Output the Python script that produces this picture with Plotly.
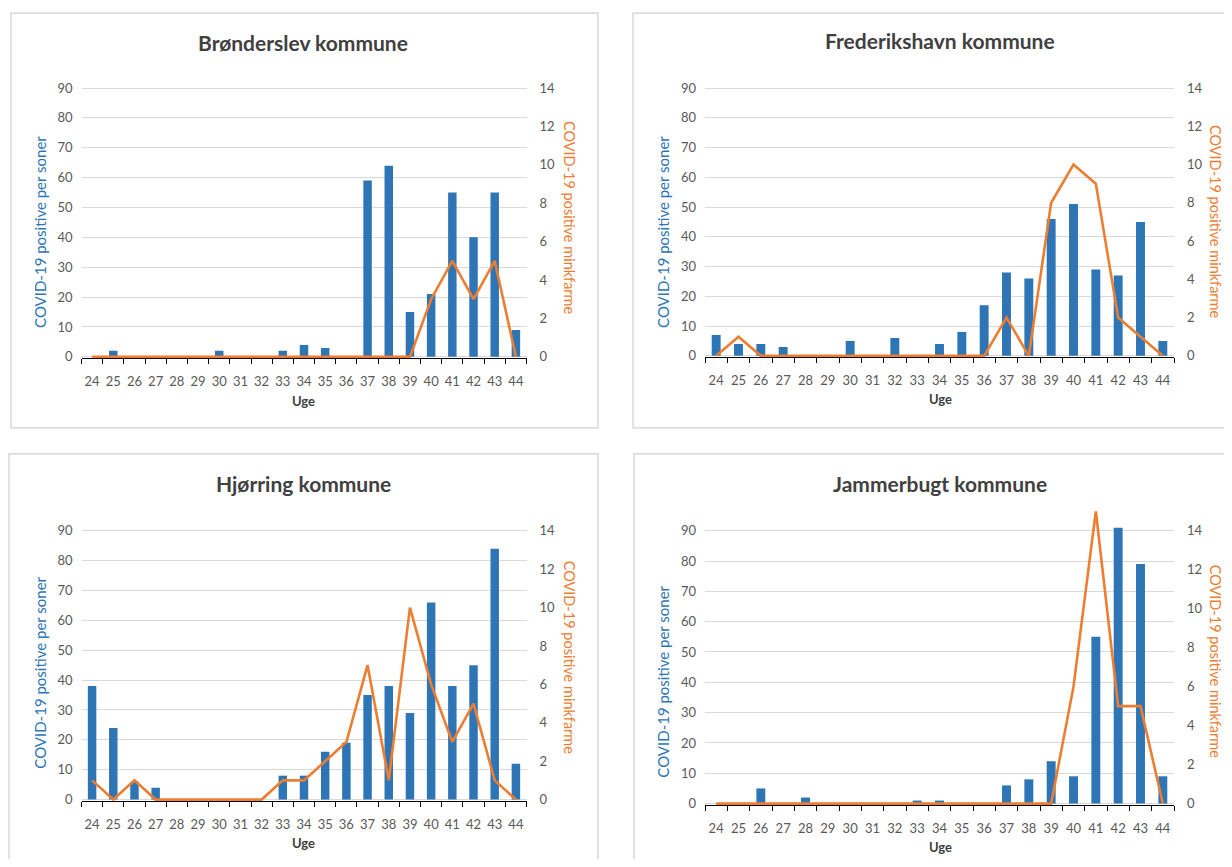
import plotly.graph_objects as go

weeks = ['24', '25', '26', '27', '28', '29', '30', '31', '32', '33', '34',
         '35', '36', '37', '38', '39', '40', '41', '42', '43', '44']

titles = ['Brønderslev kommune', 'Frederikshavn kommune', 'Hjørring kommune', 'Jammerbugt kommune']

# COVID-19 positive per soner (left axis, bars)
bronderslev_persons = [0, 2, 0, 0, 0, 0, 2, 0, 0, 2, 4, 3, 0, 59, 64, 15, 21, 55, 40, 55, 9]
frederikshavn_persons = [7, 4, 4, 3, 0, 0, 5, 0, 6, 0, 4, 8, 17, 28, 26, 46, 51, 29, 27, 45, 5]
hjorring_persons = [38, 24, 6, 4, 0, 0, 0, 0, 0, 8, 8, 16, 19, 35, 38, 29, 66, 38, 45, 84, 12]
jammerbugt_persons = [0, 0, 5, 0, 2, 0, 0, 0, 0, 1, 1, 0, 0, 6, 8, 14, 9, 55, 91, 79, 9]

# COVID-19 positive minkfarme (right axis, line)
bronderslev_farms = [0, 0, 0, 0, 0, 0, 0, 0, 0, 0, 0, 0, 0, 0, 0, 0, 3, 5, 3, 5, 0]
frederikshavn_farms = [0, 1, 0, 0, 0, 0, 0, 0, 0, 0, 0, 0, 0, 2, 0, 8, 10, 9, 2, 1, 0]
hjorring_farms = [1, 0, 1, 0, 0, 0, 0, 0, 0, 1, 1, 2, 3, 7, 1, 10, 6, 3, 5, 1, 0]
jammerbugt_farms = [0, 0, 0, 0, 0, 0, 0, 0, 0, 0, 0, 0, 0, 0, 0, 0, 6, 15, 5, 5, 0]

left_ticks = [0, 10, 20, 30, 40, 50, 60, 70, 80, 90]
right_ticks = [0, 2, 4, 6, 8, 10, 12, 14]

persons = [bronderslev_persons, frederikshavn_persons, hjorring_persons, jammerbugt_persons]
farms = [bronderslev_farms, frederikshavn_farms, hjorring_farms, jammerbugt_farms]

OFF = 8  # page body margin
YS = 1.0065  # vertical correction
W, H = 1232 - 2 * OFF, 867 - 2 * OFF
def px(x):
    return (x - OFF) / W
def py(y):
    return 1 - (y * YS - OFF) / H

BLUE = '#2E75B6'
ORANGE = '#ED7D31'
GRID = '#D9D9D9'
TICK = '#595959'
FONT = 'Lato'

# layout geometry per panel (target pixels)
geo = [
    dict(x0=81.5, x1=526.5, y90=88, y0=357, box=(11, 13, 598, 428), tx=303, ty=42,
         lt=(40, 232), rt=(569, 218), ux=303, uy=401),
    dict(x0=705, x1=1174, y90=88, y0=356, box=(633, 13, 1240, 428), tx=940, ty=40,
         lt=(663, 232), rt=(1215, 222), ux=940, uy=399),
    dict(x0=81.5, x1=526.5, y90=531, y0=800, box=(9, 454, 598, 880), tx=303, ty=484,
         lt=(40, 673), rt=(569, 658), ux=303, uy=843),
    dict(x0=705, x1=1174, y90=531, y0=804, box=(634, 454, 1240, 880), tx=940, ty=484,
         lt=(663, 682), rt=(1215, 662), ux=940, uy=847),
]

LTOP = 96.43
LBOT = -0.45
RTOP = LTOP * 14 / 90
RBOT = LBOT * 14 / 90

fig = go.Figure()
shapes = []
annotations = []
layout_axes = {}

for k in range(4):
    g = geo[k]
    xname = 'x' if k == 0 else f'x{k+1}'
    ylname = 'y' if k == 0 else f'y{2*k+1}'
    yrname = f'y{2*k+2}'
    xkey = 'xaxis' if k == 0 else f'xaxis{k+1}'
    ylkey = 'yaxis' if k == 0 else f'yaxis{2*k+1}'
    yrkey = f'yaxis{2*k+2}'

    scale = (g['y0'] - g['y90']) / 90.0
    top_px = g['y0'] - LTOP * scale
    bot_px = g['y0'] - LBOT * scale

    fig.add_trace(go.Bar(x=weeks, y=persons[k], marker=dict(color=BLUE, line=dict(width=0)),
                         xaxis=xname, yaxis=ylname, showlegend=False))
    fig.add_trace(go.Scatter(x=weeks, y=farms[k], mode='lines',
                             line=dict(color=ORANGE, width=2.6),
                             xaxis=xname, yaxis=yrname, showlegend=False))

    layout_axes[xkey] = dict(
        domain=[px(g['x0']), px(g['x1'])], anchor=ylname, type='category',
        showline=True, linecolor='#000000', linewidth=1,
        ticks='outside', tickson='boundaries', ticklen=5, tickcolor='#000000', tickwidth=1,
        tickangle=0,
        tickfont=dict(family=FONT, size=13, color=TICK), ticklabelstandoff=11,
        showgrid=False, layer='below traces', fixedrange=True)
    layout_axes[ylkey] = dict(
        domain=[py(bot_px), py(top_px)], anchor=xname, range=[LBOT, LTOP],
        tickvals=left_ticks, showgrid=True, gridcolor=GRID, gridwidth=1,
        zeroline=False, showline=False, ticks='',
        tickfont=dict(family=FONT, size=13, color=TICK), ticklabelstandoff=8,
        layer='below traces', fixedrange=True)
    layout_axes[yrkey] = dict(
        overlaying=ylname, side='right', anchor=xname, range=[RBOT, RTOP],
        tickvals=right_ticks, showgrid=False, zeroline=False, showline=False, ticks='',
        tickfont=dict(family=FONT, size=13, color=TICK), ticklabelstandoff=12,
        layer='below traces', fixedrange=True)

    b = g['box']
    shapes.append(dict(type='rect', xref='paper', yref='paper',
                       x0=px(b[0]), x1=px(b[2]), y0=py(b[3]), y1=py(b[1]),
                       line=dict(color='#D0D0D0', width=1.2), fillcolor='rgba(0,0,0,0)',
                       layer='below'))
    annotations.append(dict(text=titles[k], xref='paper', yref='paper',
                            x=px(g['tx']), y=py(g['ty']), showarrow=False,
                            xanchor='center', yanchor='middle',
                            font=dict(family=FONT, size=21, color='#404040', weight='bold')))
    annotations.append(dict(text='COVID-19 positive per soner', xref='paper', yref='paper',
                            x=px(g['lt'][0]), y=py(g['lt'][1]), showarrow=False, textangle=-90,
                            xanchor='center', yanchor='middle',
                            font=dict(family=FONT, size=15, color=BLUE)))
    annotations.append(dict(text='COVID-19 positive minkfarme', xref='paper', yref='paper',
                            x=px(g['rt'][0]), y=py(g['rt'][1]), showarrow=False, textangle=90,
                            xanchor='center', yanchor='middle',
                            font=dict(family=FONT, size=14.5, color=ORANGE)))
    annotations.append(dict(text='Uge', xref='paper', yref='paper',
                            x=px(g['ux']), y=py(g['uy']), showarrow=False,
                            xanchor='center', yanchor='middle',
                            font=dict(family=FONT, size=13, color='#404040', weight='bold')))

fig.update_layout(
    width=W, height=H, margin=dict(l=0, r=0, t=0, b=0),
    paper_bgcolor='white', plot_bgcolor='white',
    bargap=0.6, showlegend=False,
    shapes=shapes, annotations=annotations,
    **layout_axes)

fig.write_html('out.html')
